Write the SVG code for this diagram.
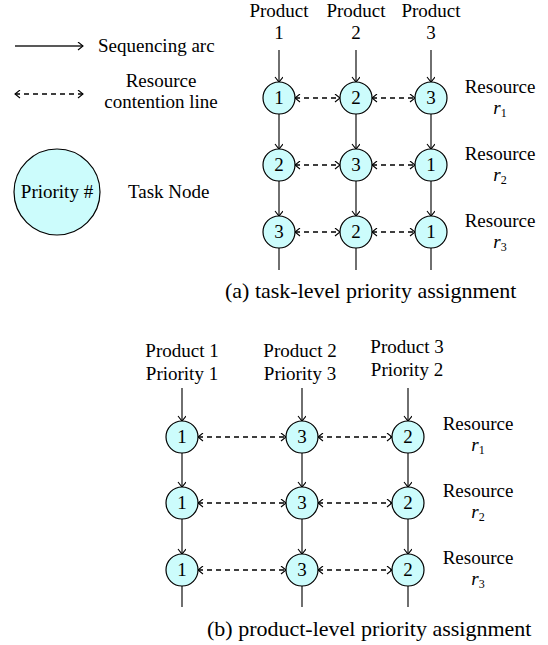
<svg xmlns="http://www.w3.org/2000/svg" width="548" height="645" viewBox="0 0 548 645" font-family="'Liberation Serif', 'Times New Roman', 'DejaVu Serif', serif">
<style>
text{font-family:'Liberation Serif','Times New Roman','DejaVu Serif',serif;font-size:19px;fill:#000}
.c{text-anchor:middle}
.cap{font-size:22px}
.sub{font-size:12px}
.it{font-style:italic}
.node{fill:#ccfcfc;stroke:#000;stroke-width:1.2}
.seq{stroke:#222;stroke-width:1.3;fill:none;marker-end:url(#ah)}
.line{stroke:#222;stroke-width:1.3;fill:none}
.dash{stroke:#000;stroke-width:1.3;fill:none;stroke-dasharray:5,4;marker-start:url(#as);marker-end:url(#ah)}
</style>
<defs>
<marker id="ah" markerUnits="userSpaceOnUse" markerWidth="10" markerHeight="10" refX="6" refY="4" orient="auto">
<path d="M1,0 L6,4 L1,8" fill="none" stroke="#000" stroke-width="1.1"/>
</marker>
<marker id="as" markerUnits="userSpaceOnUse" markerWidth="10" markerHeight="10" refX="1" refY="4" orient="auto">
<path d="M6,0 L1,4 L6,8" fill="none" stroke="#000" stroke-width="1.1"/>
</marker>
</defs>

<g id="legend">
<line x1="15" y1="46" x2="83" y2="46" class="seq"/>
<text x="98" y="52">Sequencing arc</text>
<line x1="15" y1="94" x2="83" y2="94" class="dash"/>
<text x="161" y="87" class="c">Resource</text>
<text x="161" y="108" class="c">contention line</text>
<circle cx="57" cy="192" r="43" class="node"/>
<text x="57" y="198" class="c">Priority #</text>
<text x="128" y="198">Task Node</text>
</g>

<g id="labels-a">
<text x="279" y="17" class="c">Product</text><text x="279" y="39" class="c">1</text>
<text x="356" y="17" class="c">Product</text><text x="356" y="39" class="c">2</text>
<text x="431" y="17" class="c">Product</text><text x="431" y="39" class="c">3</text>
<text x="500" y="93" class="c">Resource</text><text x="500" y="114" class="c"><tspan class="it">r</tspan><tspan class="sub" dy="3">1</tspan></text>
<text x="500" y="160" class="c">Resource</text><text x="500" y="181" class="c"><tspan class="it">r</tspan><tspan class="sub" dy="3">2</tspan></text>
<text x="500" y="227" class="c">Resource</text><text x="500" y="248" class="c"><tspan class="it">r</tspan><tspan class="sub" dy="3">3</tspan></text>
<text x="225" y="298" class="cap">(a) task-level priority assignment</text>
</g>

<g id="connectors-a">
<line x1="279" y1="50" x2="279" y2="82" class="seq"/>
<line x1="356" y1="50" x2="356" y2="82" class="seq"/>
<line x1="431" y1="50" x2="431" y2="82" class="seq"/>
<line x1="279" y1="114" x2="279" y2="149" class="seq"/>
<line x1="356" y1="114" x2="356" y2="149" class="seq"/>
<line x1="431" y1="114" x2="431" y2="149" class="seq"/>
<line x1="279" y1="181" x2="279" y2="216" class="seq"/>
<line x1="356" y1="181" x2="356" y2="216" class="seq"/>
<line x1="431" y1="181" x2="431" y2="216" class="seq"/>
<line x1="279" y1="248" x2="279" y2="270" class="line"/>
<line x1="356" y1="248" x2="356" y2="270" class="line"/>
<line x1="431" y1="248" x2="431" y2="270" class="line"/>
<line x1="295" y1="98" x2="340" y2="98" class="dash"/>
<line x1="372" y1="98" x2="415" y2="98" class="dash"/>
<line x1="295" y1="165" x2="340" y2="165" class="dash"/>
<line x1="372" y1="165" x2="415" y2="165" class="dash"/>
<line x1="295" y1="232" x2="340" y2="232" class="dash"/>
<line x1="372" y1="232" x2="415" y2="232" class="dash"/>
</g>

<g id="a-r1-p1"><circle cx="279" cy="98" r="16" class="node"/><text x="279" y="104" class="c">1</text></g>
<g id="a-r1-p2"><circle cx="356" cy="98" r="16" class="node"/><text x="356" y="104" class="c">2</text></g>
<g id="a-r1-p3"><circle cx="431" cy="98" r="16" class="node"/><text x="431" y="104" class="c">3</text></g>
<g id="a-r2-p1"><circle cx="279" cy="165" r="16" class="node"/><text x="279" y="171" class="c">2</text></g>
<g id="a-r2-p2"><circle cx="356" cy="165" r="16" class="node"/><text x="356" y="171" class="c">3</text></g>
<g id="a-r2-p3"><circle cx="431" cy="165" r="16" class="node"/><text x="431" y="171" class="c">1</text></g>
<g id="a-r3-p1"><circle cx="279" cy="232" r="16" class="node"/><text x="279" y="238" class="c">3</text></g>
<g id="a-r3-p2"><circle cx="356" cy="232" r="16" class="node"/><text x="356" y="238" class="c">2</text></g>
<g id="a-r3-p3"><circle cx="431" cy="232" r="16" class="node"/><text x="431" y="238" class="c">1</text></g>

<g id="labels-b">
<text x="182" y="357" class="c">Product 1</text><text x="182" y="380" class="c">Priority 1</text>
<text x="300" y="357" class="c">Product 2</text><text x="300" y="380" class="c">Priority 3</text>
<text x="407" y="353" class="c">Product 3</text><text x="407" y="376" class="c">Priority 2</text>
<text x="478" y="430" class="c">Resource</text><text x="478" y="451" class="c"><tspan class="it">r</tspan><tspan class="sub" dy="3">1</tspan></text>
<text x="478" y="497" class="c">Resource</text><text x="478" y="518" class="c"><tspan class="it">r</tspan><tspan class="sub" dy="3">2</tspan></text>
<text x="478" y="564" class="c">Resource</text><text x="478" y="585" class="c"><tspan class="it">r</tspan><tspan class="sub" dy="3">3</tspan></text>
<text x="207" y="636" class="cap">(b) product-level priority assignment</text>
</g>

<g id="connectors-b">
<line x1="182" y1="388" x2="182" y2="421" class="seq"/>
<line x1="302" y1="388" x2="302" y2="421" class="seq"/>
<line x1="408" y1="388" x2="408" y2="421" class="seq"/>
<line x1="182" y1="453" x2="182" y2="487" class="seq"/>
<line x1="302" y1="453" x2="302" y2="487" class="seq"/>
<line x1="408" y1="453" x2="408" y2="487" class="seq"/>
<line x1="182" y1="519" x2="182" y2="554" class="seq"/>
<line x1="302" y1="519" x2="302" y2="554" class="seq"/>
<line x1="408" y1="519" x2="408" y2="554" class="seq"/>
<line x1="182" y1="586" x2="182" y2="607" class="line"/>
<line x1="302" y1="586" x2="302" y2="607" class="line"/>
<line x1="408" y1="586" x2="408" y2="607" class="line"/>
<line x1="198" y1="437" x2="286" y2="437" class="dash"/>
<line x1="318" y1="437" x2="392" y2="437" class="dash"/>
<line x1="198" y1="503" x2="286" y2="503" class="dash"/>
<line x1="318" y1="503" x2="392" y2="503" class="dash"/>
<line x1="198" y1="570" x2="286" y2="570" class="dash"/>
<line x1="318" y1="570" x2="392" y2="570" class="dash"/>
</g>

<g id="b-r1-p1"><circle cx="182" cy="437" r="16" class="node"/><text x="182" y="443" class="c">1</text></g>
<g id="b-r1-p2"><circle cx="302" cy="437" r="16" class="node"/><text x="302" y="443" class="c">3</text></g>
<g id="b-r1-p3"><circle cx="408" cy="437" r="16" class="node"/><text x="408" y="443" class="c">2</text></g>
<g id="b-r2-p1"><circle cx="182" cy="503" r="16" class="node"/><text x="182" y="509" class="c">1</text></g>
<g id="b-r2-p2"><circle cx="302" cy="503" r="16" class="node"/><text x="302" y="509" class="c">3</text></g>
<g id="b-r2-p3"><circle cx="408" cy="503" r="16" class="node"/><text x="408" y="509" class="c">2</text></g>
<g id="b-r3-p1"><circle cx="182" cy="570" r="16" class="node"/><text x="182" y="576" class="c">1</text></g>
<g id="b-r3-p2"><circle cx="302" cy="570" r="16" class="node"/><text x="302" y="576" class="c">3</text></g>
<g id="b-r3-p3"><circle cx="408" cy="570" r="16" class="node"/><text x="408" y="576" class="c">2</text></g>
</svg>
